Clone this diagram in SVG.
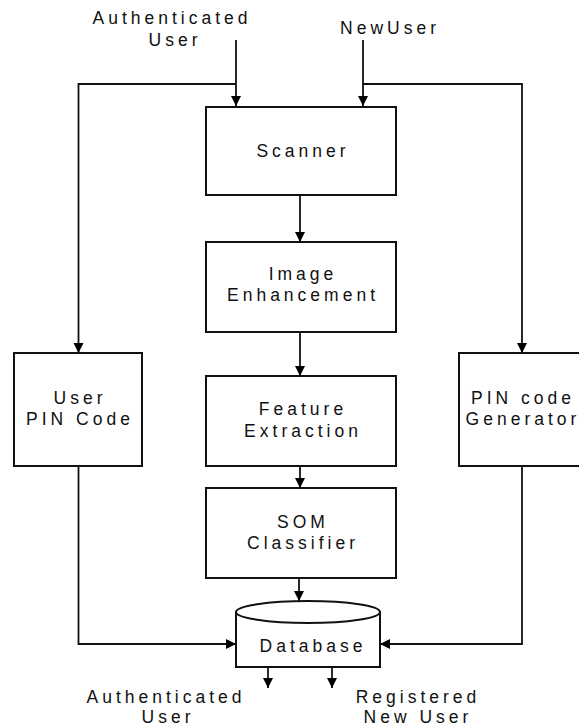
<svg xmlns="http://www.w3.org/2000/svg" width="579" height="728" viewBox="0 0 579 728">
  <defs>
    <marker id="arrow" markerUnits="userSpaceOnUse" markerWidth="10" markerHeight="11" viewBox="0 0 10 11" refX="10" refY="5.5" orient="auto">
      <path d="M0,0.5 L10,5.5 L0,10.5 Z" fill="#000"/>
    </marker>
  </defs>
  <style>
    .box { fill: #fff; stroke: #111; stroke-width: 2; }
    .lbl { font-family: "Liberation Sans", Arial, sans-serif; font-size: 17.5px; letter-spacing: 4px; fill: #111; text-anchor: middle; }
    .wire { fill: none; stroke: #111; stroke-width: 1.8; }
  </style>
  <rect width="579" height="728" fill="#fff"/>

  <!-- input / output labels -->
  <g id="in-auth">
    <text class="lbl" x="172" y="24">Authenticated</text>
    <text class="lbl" x="175" y="46">User</text>
  </g>
  <g id="in-new">
    <text class="lbl" x="390" y="34">NewUser</text>
  </g>
  <g id="out-auth">
    <text class="lbl" x="166" y="703">Authenticated</text>
    <text class="lbl" x="168" y="723">User</text>
  </g>
  <g id="out-reg">
    <text class="lbl" x="418" y="703">Registered</text>
    <text class="lbl" x="418" y="723">New User</text>
  </g>

  <!-- connectors -->
  <g id="connectors" class="wire">
    <path d="M236,40 V106" marker-end="url(#arrow)"/>
    <path d="M236,84 H78.5 V353" marker-end="url(#arrow)"/>
    <path d="M363,40 V106" marker-end="url(#arrow)"/>
    <path d="M363,84 H522 V353" marker-end="url(#arrow)"/>
    <path d="M300,195 V242" marker-end="url(#arrow)"/>
    <path d="M300,332 V376" marker-end="url(#arrow)"/>
    <path d="M300,466 V488" marker-end="url(#arrow)"/>
    <path d="M299,578 V601" marker-end="url(#arrow)"/>
    <path d="M78.5,466 V644 H236" marker-end="url(#arrow)"/>
    <path d="M522,466 V644 H380" marker-end="url(#arrow)"/>
    <path d="M268,667 V688" marker-end="url(#arrow)"/>
    <path d="M332,667 V688" marker-end="url(#arrow)"/>
  </g>

  <!-- processing blocks -->
  <g id="scanner">
    <rect class="box" x="206" y="107" width="190" height="88"/>
    <text class="lbl" x="303" y="157">Scanner</text>
  </g>
  <g id="enhancement">
    <rect class="box" x="206" y="242" width="190" height="90"/>
    <text class="lbl" x="303" y="280">Image</text>
    <text class="lbl" x="303" y="301">Enhancement</text>
  </g>
  <g id="features">
    <rect class="box" x="206" y="376" width="190" height="90"/>
    <text class="lbl" x="303" y="415">Feature</text>
    <text class="lbl" x="303" y="437">Extraction</text>
  </g>
  <g id="som">
    <rect class="box" x="206" y="488" width="190" height="90"/>
    <text class="lbl" x="303" y="528">SOM</text>
    <text class="lbl" x="303" y="549">Classifier</text>
  </g>
  <g id="user-pin">
    <rect class="box" x="14" y="353" width="128" height="113"/>
    <text class="lbl" x="80" y="404">User</text>
    <text class="lbl" x="80" y="425">PIN Code</text>
  </g>
  <g id="pin-generator">
    <rect class="box" x="459" y="353" width="128" height="113"/>
    <text class="lbl" x="523" y="404">PIN code</text>
    <text class="lbl" x="523" y="425">Generator</text>
  </g>
  <g id="database">
    <path class="box" d="M236,612 V667 H380 V612"/>
    <ellipse class="box" cx="308" cy="612" rx="72" ry="11"/>
    <text class="lbl" x="313" y="652">Database</text>
  </g>
</svg>
